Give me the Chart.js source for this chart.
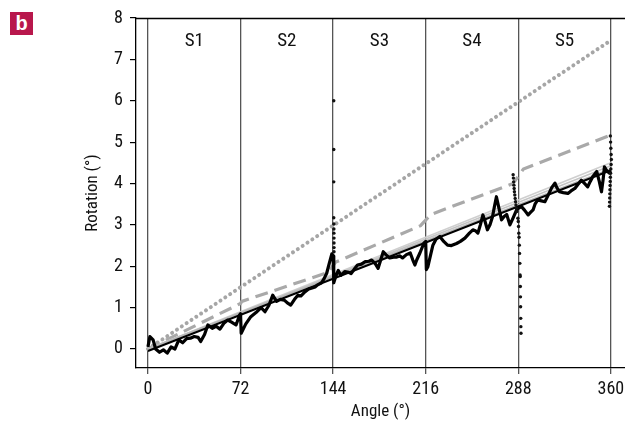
<!DOCTYPE html>
<html><head><meta charset="utf-8">
<script src="https://cdn.jsdelivr.net/npm/chart.js@4"></script>
<style>
html,body{margin:0;padding:0;background:#fff;}
#wrap{position:relative;width:625px;height:425px;}
#badge{position:absolute;left:10px;top:12px;width:23px;height:23px;background:#b8174c;color:#fff;font:bold 20px "Liberation Sans",Arial,sans-serif;text-align:center;line-height:22px;}
</style></head><body>
<div id="wrap"><canvas id="c" width="625" height="425"></canvas><div id="badge">b</div></div>
<script>
const FONT = '"Liberation Sans Narrow","Roboto Condensed","DejaVu Sans Condensed","Liberation Sans",sans-serif';
const segBounds = [0, 72, 144, 216, 288, 360];
const segLabels = ['S1', 'S2', 'S3', 'S4', 'S5'];
const xTicks = [0, 72, 144, 216, 288, 360];
const yTicks = [0, 1, 2, 3, 4, 5, 6, 7, 8];

const dottedX = [0, 360];
const dottedY = [0, 7.46];

const dashedX = [0, 72, 73, 140, 146, 212, 220, 284, 292, 360];
const dashedY = [0, 1.1, 1.15, 1.85, 2.1, 2.98, 3.25, 4.0, 4.35, 5.17];

const bandX = [0, 360];
const bandA = [0, 4.36];
const bandB = [0, 4.43];
const bandC = [0, 4.5];

const fitX = [0, 360];
const fitY = [-0.05, 4.32];

const measX = [0,1.5,4,6,9,12,15,18,21,24,27,30,33,36,39,41,44,46.6,50,53,56,59,62,65,68.5,71.3,72,
  72.5,76,80,84,88,91,94,97,100,103,106,109,111,114,116.6,119,122,125,127,130,132,135,137,139,141,143,144,
  144.5,146,148,150,153,156,158,161,163,166,169,172,174,177,179,183,185,188,191,193,196,198,201,204,206,207.6,209,211.5,214.6,216,
  216.5,217.7,220,221.6,224,227,230,233,236,240,243,246.5,250,252.7,255,256.6,258.5,260.5,262,264,266,268,269.5,271,273,275,277,279,281.5,284,286.7,288,
  288.5,290.5,293,295.7,297.5,299.5,301,303,306,308.7,311,314,316.5,318,320,323,326.6,329,332,334.5,337,339.5,342,344,346,349,351,352.7,354,355,357,359,360];
const measY = [0.05,0.3,0.22,0.0,-0.08,-0.02,-0.1,0.05,0.0,0.22,0.15,0.25,0.26,0.3,0.28,0.18,0.35,0.58,0.5,0.55,0.48,0.62,0.7,0.65,0.58,0.82,0.85,
  0.38,0.6,0.78,0.88,1.0,0.9,1.05,1.3,1.15,1.2,1.18,1.1,1.06,1.2,1.3,1.28,1.38,1.45,1.47,1.5,1.55,1.6,1.7,1.83,2.07,2.3,2.25,
  1.6,1.75,1.9,1.78,1.87,1.85,1.82,1.95,2.03,2.05,2.11,2.12,2.15,2.05,1.95,2.35,2.28,2.2,2.22,2.22,2.25,2.2,2.28,2.32,2.15,2.03,2.15,2.32,2.56,2.6,
  1.92,1.99,2.3,2.51,2.65,2.72,2.6,2.51,2.5,2.55,2.6,2.68,2.8,2.88,2.85,2.8,3.0,3.24,3.1,2.88,3.0,3.2,3.45,3.68,3.4,3.12,3.2,3.25,3.0,3.17,3.36,3.4,
  3.4,3.44,3.35,3.24,3.3,3.36,3.5,3.6,3.58,3.56,3.7,3.9,4.01,3.9,3.8,3.78,3.76,3.82,3.88,3.98,4.08,4.0,3.92,4.05,4.17,4.29,4.05,3.8,4.1,4.4,4.3,4.25,4.3];

const dotX = [144.5,144.5,144.5,144.5,144.6,144.6,144.6,144.7,144.7,144.7,144.7,
  284,284.2,284.4,284.6,284.8,285,285.3,285.6,285.9,286.2,286.5,286.8,
  287.7,288,288.2,288.4,288.6,288.8,289,289.2,289.4,289.5,289.6,289.7,289.8,289.9,290,290.1,
  359.6,359.8,360,360.2,360.4,360.2,360,359.8,359.6,359.5,359.4,359.3,359.2,359.1,359,358.9];
const dotY = [6.0,4.82,4.04,3.17,3.02,2.9,2.8,2.68,2.56,2.45,2.35,
  4.21,4.13,4.04,3.96,3.88,3.8,3.72,3.64,3.56,3.48,3.4,3.32,
  3.16,3.08,2.96,2.8,2.7,2.51,2.31,2.07,1.79,1.75,1.51,1.26,1.02,0.74,0.54,0.38,
  5.15,5.0,4.85,4.7,4.58,4.46,4.35,4.25,4.15,4.05,3.95,3.85,3.75,3.65,3.55,3.45];

const pts = (xs, ys) => xs.map((x, i) => ({x: x, y: ys[i]}));

const framePlugin = {
  id: 'frame',
  afterDraw(chart) {
    const {ctx, chartArea, scales} = chart;
    ctx.save();
    ctx.strokeStyle = '#000';
    ctx.lineWidth = 1.3;
    ctx.beginPath();
    ctx.moveTo(chartArea.left, chartArea.top + 0.5);
    ctx.lineTo(chartArea.right, chartArea.top + 0.5);
    ctx.stroke();
    ctx.fillStyle = '#111';
    ctx.font = '19px ' + FONT;
    ctx.textAlign = 'center';
    ctx.textBaseline = 'middle';
    for (let i = 0; i < segLabels.length; i++) {
      const mid = (segBounds[i] + segBounds[i + 1]) / 2;
      ctx.fillText(segLabels[i], scales.x.getPixelForValue(mid), chartArea.top + 23);
    }
    ctx.restore();
  }
};

new Chart(document.getElementById('c'), {
  type: 'line',
  data: {
    datasets: [
      {data: pts(dotX, dotY), showLine: false, pointRadius: 1.7, pointBackgroundColor: '#111', pointBorderWidth: 0, order: 0},
      {data: pts(measX, measY), borderColor: '#000', borderWidth: 3.2, pointRadius: 0, order: 1, borderJoinStyle: 'round'},
      {data: pts(fitX, fitY), borderColor: '#000', borderWidth: 2, pointRadius: 0, order: 2},
      {data: pts(bandX, bandA), borderColor: '#b8b8b8', borderWidth: 1.5, pointRadius: 0, order: 3},
      {data: pts(bandX, bandB), borderColor: '#c4c4c4', borderWidth: 1.5, pointRadius: 0, order: 4},
      {data: pts(bandX, bandC), borderColor: '#cfcfcf', borderWidth: 1.5, pointRadius: 0, order: 5},
      {data: pts(dashedX, dashedY), borderColor: '#a9a9a9', borderWidth: 3.2, borderDash: [13, 7], pointRadius: 0, order: 6},
      {data: pts(dottedX, dottedY), borderColor: '#a6a6a6', borderWidth: 4, borderDash: [0.01, 5.8], borderCapStyle: 'round', pointRadius: 0, order: 7}
    ]
  },
  options: {
    responsive: false,
    animation: false,
    devicePixelRatio: 1,
    layout: {autoPadding: false, padding: {left: 79, top: 18, right: 0, bottom: 0}},
    plugins: {legend: {display: false}, tooltip: {enabled: false}},
    elements: {line: {tension: 0}},
    scales: {
      x: {
        type: 'linear', min: -9.3, max: 371,
        afterBuildTicks: s => { s.ticks = xTicks.map(v => ({value: v})); },
        afterFit: s => { s.height = 57; s.paddingRight = 0; s.paddingLeft = 0; },
        grid: {display: true, drawOnChartArea: true, drawTicks: true, tickLength: 6, color: '#555', lineWidth: 1.3},
        border: {display: true, color: '#000', width: 1.3},
        ticks: {color: '#111', font: {family: FONT, size: 18}, padding: 5, maxRotation: 0, autoSkip: false},
        title: {display: true, text: 'Angle (°)', color: '#111', font: {family: FONT, size: 17}, padding: {top: 4, bottom: 3}}
      },
      y: {
        type: 'linear', min: -0.46, max: 8,
        afterBuildTicks: s => { s.ticks = yTicks.map(v => ({value: v})); },
        afterFit: s => { s.width = 57; s.paddingTop = 0; s.paddingBottom = 0; },
        grid: {display: true, drawOnChartArea: false, drawTicks: true, tickLength: 6, color: '#000', lineWidth: 1.2},
        border: {display: true, color: '#000', width: 1.3},
        ticks: {color: '#111', font: {family: FONT, size: 18}, padding: 7},
        title: {display: true, text: 'Rotation (°)', color: '#111', font: {family: FONT, size: 17}, padding: {top: 4, bottom: 4}}
      }
    }
  },
  plugins: [framePlugin]
});
</script>
</body></html>
